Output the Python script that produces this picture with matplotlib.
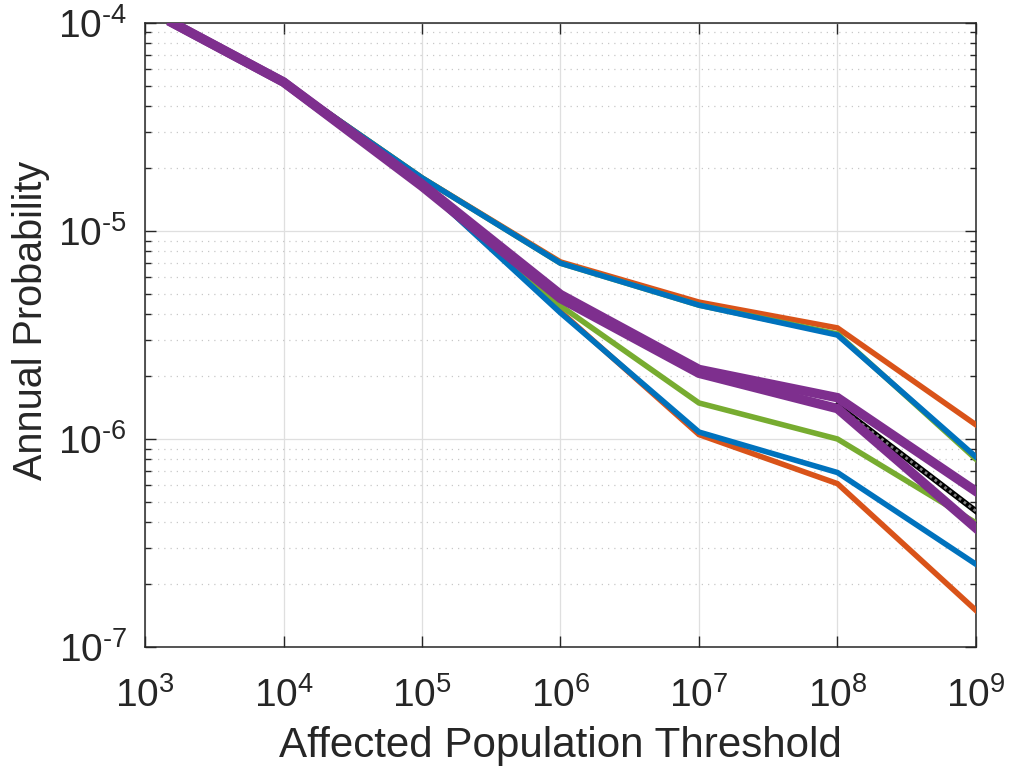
import matplotlib
matplotlib.use("Agg")
import matplotlib.pyplot as plt
from matplotlib.ticker import LogLocator, NullLocator, FixedLocator, NullFormatter

plt.rcParams['font.family'] = ['Liberation Sans', 'DejaVu Sans']
plt.rcParams['mathtext.fontset'] = 'custom'
plt.rcParams['mathtext.rm'] = 'Liberation Sans'
plt.rcParams['mathtext.it'] = 'Liberation Sans:italic'
plt.rcParams['mathtext.bf'] = 'Liberation Sans:bold'

# Data
x = [1585, 1e4, 1e5, 1e6, 1e7, 1e8, 1e9]
orange_hi = [1e-4, 5.2e-5, 1.80e-5, 7.1e-6, 4.55e-6, 3.42e-6, 1.17e-6]
orange_lo = [1e-4, 5.2e-5, 1.66e-5, 4.1e-6, 1.05e-6, 6.1e-7, 1.5e-7]
green_hi = [1e-4, 5.2e-5, 1.80e-5, 7.0e-6, 4.4e-6, 3.2e-6, 8.0e-7]
green_lo = [1e-4, 5.2e-5, 1.70e-5, 4.37e-6, 1.49e-6, 1.0e-6, 3.95e-7]
blue_hi = [1e-4, 5.2e-5, 1.80e-5, 7.0e-6, 4.4e-6, 3.16e-6, 8.2e-7]
blue_lo = [1e-4, 5.2e-5, 1.66e-5, 4.04e-6, 1.08e-6, 6.9e-7, 2.5e-7]
purple_hi = [1e-4, 5.2e-5, 1.68e-5, 4.95e-6, 2.16e-6, 1.58e-6, 5.6e-7]
purple_lo = [1e-4, 5.2e-5, 1.64e-5, 4.74e-6, 2.07e-6, 1.40e-6, 3.73e-7]
black_x = [1e8, 1e9]
black_y = [1.45e-6, 4.5e-7]

xticks = [1e3, 1e4, 1e5, 1e6, 1e7, 1e8, 1e9]
xticklabels = [r'$10^{3}$', r'$10^{4}$', r'$10^{5}$', r'$10^{6}$', r'$10^{7}$', r'$10^{8}$', r'$10^{9}$']
yticks = [1e-7, 1e-6, 1e-5, 1e-4]
yticklabels = ['$10^{\u20107}$', '$10^{\u20106}$', '$10^{\u20105}$', '$10^{\u20104}$']

C_BLUE = '#0072BD'
C_ORANGE = '#D95319'
C_GREEN = '#77AC30'
C_PURPLE = '#7E2F8E'

fig = plt.figure(figsize=(10.12, 7.71), dpi=100)
ax = fig.add_axes([0.1433, 0.1608, 0.8211, 0.8094])

lw = 4.0
ax.plot(x, orange_hi, color=C_ORANGE, lw=lw, solid_joinstyle='miter', zorder=3)
ax.plot(x, orange_lo, color=C_ORANGE, lw=lw, solid_joinstyle='miter', zorder=3)
ax.plot(x, green_hi, color=C_GREEN, lw=lw, solid_joinstyle='miter', zorder=4)
ax.plot(x, green_lo, color=C_GREEN, lw=lw, solid_joinstyle='miter', zorder=4)
ax.plot(x, blue_hi, color=C_BLUE, lw=lw, solid_joinstyle='miter', zorder=5)
ax.plot(x, blue_lo, color=C_BLUE, lw=lw, solid_joinstyle='miter', zorder=5)
ax.plot(black_x, black_y, color='black', lw=4.2, zorder=5.5)
ax.plot(black_x, black_y, color='#808080', lw=2.0, ls=(0, (1, 1.2)), zorder=5.6)
ax.plot(x, purple_hi, color=C_PURPLE, lw=6.8, solid_joinstyle='miter', zorder=6)
ax.plot(x, purple_lo, color=C_PURPLE, lw=6.8, solid_joinstyle='miter', zorder=6)

ax.set_xscale('log')
ax.set_yscale('log')
ax.set_xlim(1e3, 1e9)
ax.set_ylim(1e-7, 1e-4)

ax.xaxis.set_major_locator(FixedLocator(xticks))
ax.set_xticklabels(xticklabels)
ax.xaxis.set_minor_locator(NullLocator())
ax.yaxis.set_major_locator(FixedLocator(yticks))
ax.set_yticklabels(yticklabels)
ax.yaxis.set_minor_locator(LogLocator(base=10, subs=range(2, 10), numticks=20))
ax.yaxis.set_minor_formatter(NullFormatter())

ax.grid(True, which='major', color='#dfdfdf', lw=0.9, ls='-', zorder=0)
ax.grid(True, which='minor', axis='y', color='#c8c8c8', lw=0.9, ls=(0, (1, 4)), zorder=0)
ax.set_axisbelow(True)

for s in ax.spines.values():
    s.set_color('#262626')
    s.set_linewidth(1.1)

ax.tick_params(which='both', direction='in', top=True, right=True, colors='#262626',
               labelcolor='#262626', labelsize=28)
ax.tick_params(which='major', length=8, width=1.0)
ax.tick_params(which='minor', length=4.5, width=1.0)
ax.tick_params(axis='x', pad=22)
ax.tick_params(axis='y', pad=13)

ax.set_xlabel('Affected Population Threshold', fontsize=30.3, color='#262626', labelpad=8)
ax.set_ylabel('Annual Probability', fontsize=28.5, color='#262626', labelpad=6)
ax.yaxis.label.set_y(0.524)

fig.savefig('out.png', dpi=100)
